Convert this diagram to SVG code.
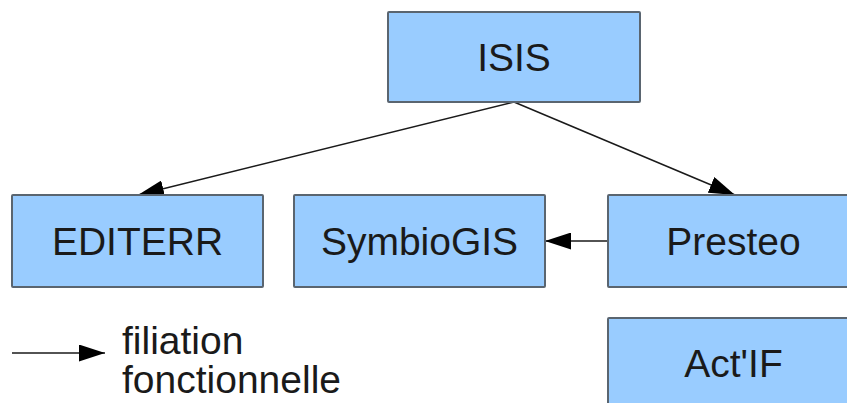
<svg xmlns="http://www.w3.org/2000/svg" width="847" height="403" viewBox="0 0 847 403">
<style>
.box{fill:#99ccff;stroke:#5a6570;stroke-width:2}
.lbl{font-family:"Liberation Sans",Arial,sans-serif;font-size:39px;fill:#1a1a1a;text-anchor:middle}
.leg{font-family:"Liberation Sans",Arial,sans-serif;font-size:39px;fill:#1a1a1a}
.conn{stroke:#1a1a1a;stroke-width:1.5;fill:none;marker-end:url(#ah)}
</style>
<defs>
<marker id="ah" viewBox="0 0 26 17" refX="26" refY="8.5" markerWidth="26" markerHeight="17" markerUnits="userSpaceOnUse" orient="auto">
<path d="M0,0 L26,8.5 L0,17 Z" fill="#000"/>
</marker>
</defs>
<rect width="847" height="403" fill="#fff"/>
<g id="connectors">
<line class="conn" x1="514" y1="102" x2="138" y2="195"/>
<line class="conn" x1="514" y1="102" x2="735" y2="195"/>
<line class="conn" x1="608" y1="241" x2="545" y2="241"/>
<line class="conn" x1="12" y1="353" x2="105" y2="353"/>
</g>
<g id="isis"><rect class="box" x="388" y="12" width="252" height="90" rx="1"/><text class="lbl" x="514" y="71">ISIS</text></g>
<g id="editerr"><rect class="box" x="12" y="195" width="251" height="92" rx="1"/><text class="lbl" x="137.5" y="255">EDITERR</text></g>
<g id="symbiogis"><rect class="box" x="294" y="195" width="251" height="92" rx="1"/><text class="lbl" x="419.5" y="255">SymbioGIS</text></g>
<g id="presteo"><rect class="box" x="608" y="195" width="251" height="92" rx="1"/><text class="lbl" x="733.5" y="255">Presteo</text></g>
<g id="actif"><rect class="box" x="608" y="318" width="251" height="100" rx="1"/><text class="lbl" x="733.5" y="377">Act'IF</text></g>
<g id="legend"><text class="leg" x="122" y="354">filiation</text><text class="leg" x="122" y="393">fonctionnelle</text></g>
</svg>
